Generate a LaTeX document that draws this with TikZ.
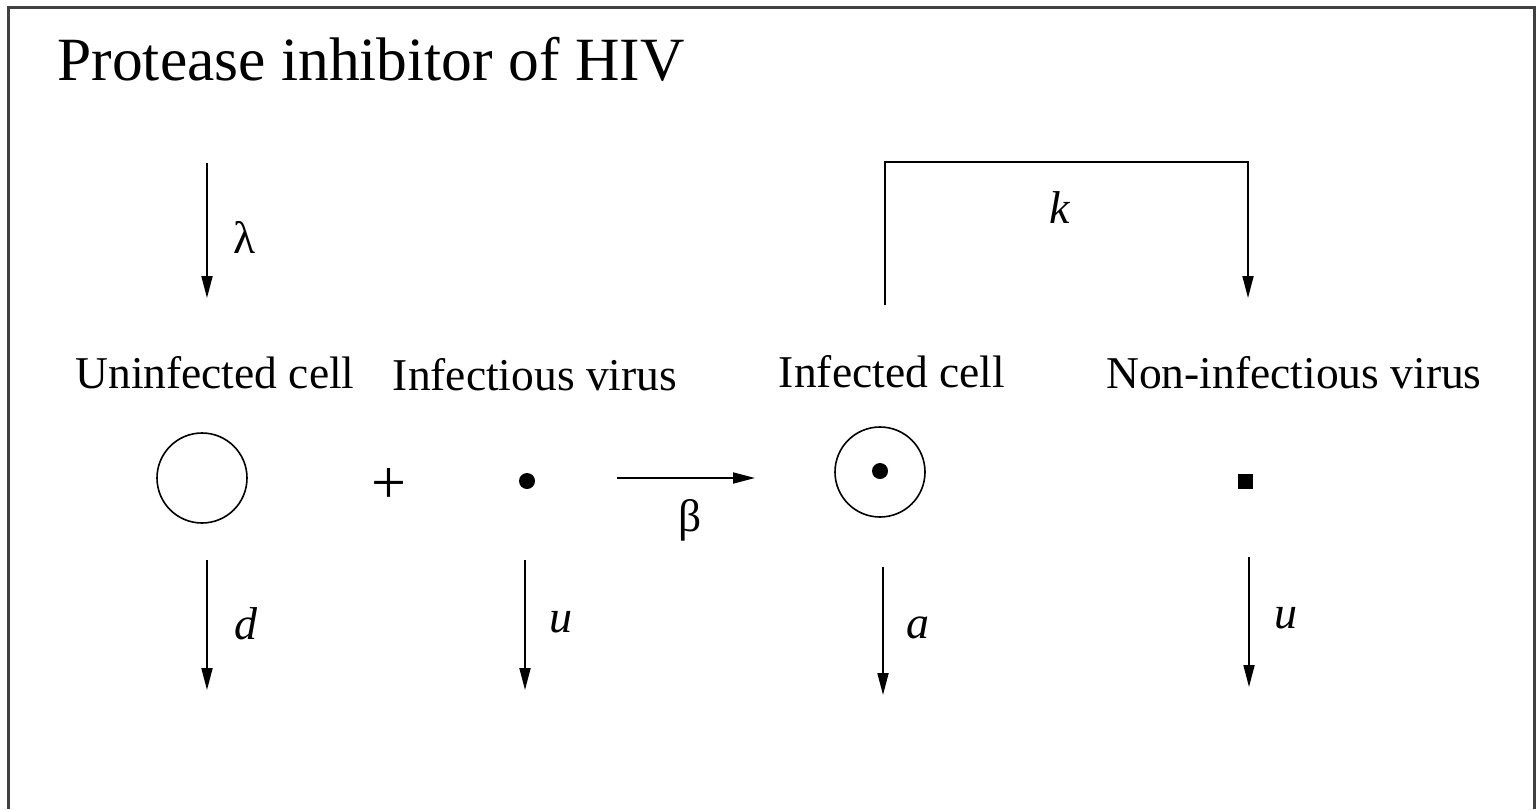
\documentclass[tikz,border=0pt]{standalone}
\usepackage{fontspec}
\setmainfont{Liberation Serif}
\usetikzlibrary{arrows.meta}
\tikzset{>={Triangle[length=22pt,width=11pt]},every node/.style={font=\fontsize{45.5}{50}\selectfont},
flow/.style={line width=1.8pt,->},edge/.style={line width=1.8pt},
cell/.style={draw,circle,line width=1.6pt,minimum size=90pt,inner sep=0pt},
dot/.style={fill,circle,minimum size=16pt,inner sep=0pt},sym/.style={font=\fontsize{46}{50}\selectfont\itshape}}

\begin{document}
\begin{tikzpicture}[x=1pt,y=-1pt]
\useasboundingbox (0,0) rectangle (1538,809);
\draw[line width=3pt,black!75] (8,809)--(8,7)--(1534,7)--(1534,809);
\node[anchor=base west,font=\fontsize{61.5}{70}\selectfont] (title) at (54,80) {Protease inhibitor of HIV};
% names of the species
\node[anchor=base] (lunf) at (215,388) {Uninfected cell};\node[anchor=base] (lvir) at (535,390) {Infectious virus};
\node[anchor=base] (linf) at (892,387) {Infected cell};\node[anchor=base] (lnon) at (1294,388) {Non-infectious virus};
% the species
\node[cell] (unf) at (202,478) {};\node[font=\fontsize{62}{66}\selectfont] (plus) at (389,486) {+};\node[dot] (vir) at (527,481) {};
\node[cell] (inf) at (880,472) {};\node[dot] (infc) at (880,471) {};\node[fill,minimum size=15pt,inner sep=0pt] (non) at (1245,481) {};
% production and infection
\coordinate (src) at (207,163);\coordinate (srcend) at (207,298);
\draw[flow] (src)--(srcend);\node (lam) at (245,237) {λ};
\draw[flow,shorten <=90pt,shorten >=125pt] ([yshift=3pt]vir.center)--([yshift=3pt]vir.center -| inf.center);\node (beta) at (690,520) {β};
\coordinate (k0) at (885,305);\coordinate (k1) at (1248,298);
\draw[edge] (k0)--(885,162)--(1248,162);\draw[flow] (1248,161.1)--(k1);\node[sym] (kk) at (1060,208) {k};
% decay
\coordinate (d0) at (207,560);\coordinate (d1) at (207,690);\draw[flow] (d0)--(d1);\node[sym] (dd) at (246,624) {d};
\coordinate (u0) at (525,560);\coordinate (u1) at (525,690);\draw[flow] (u0)--(u1);\node[sym] (uu) at (561,622) {u};
\coordinate (a0) at (883,567);\coordinate (a1) at (883,695);\draw[flow] (a0)--(a1);\node[sym] (aa) at (918,628) {a};
\coordinate (n0) at (1249,557);\coordinate (n1) at (1249,687);\draw[flow] (n0)--(n1);\node[sym] (nu) at (1286,618) {u};
\end{tikzpicture}
\end{document}
